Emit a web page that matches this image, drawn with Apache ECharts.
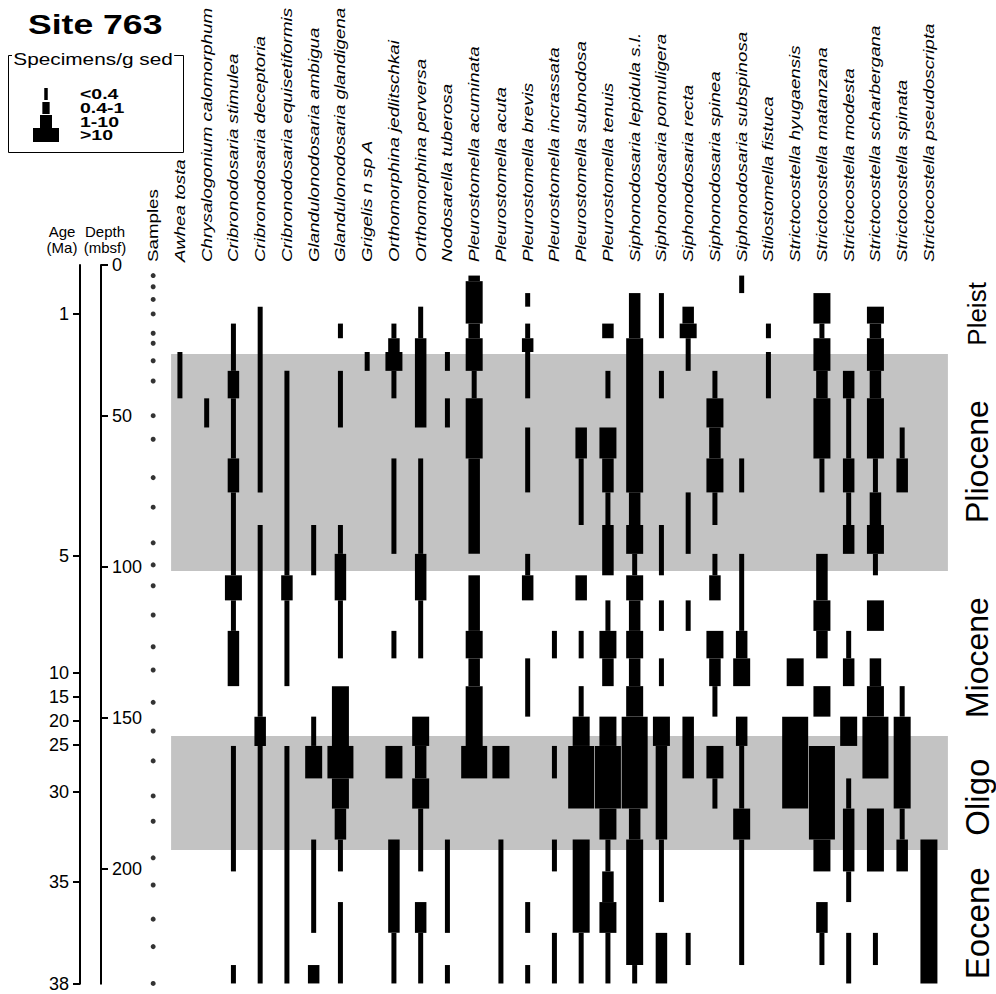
<!DOCTYPE html>
<html><head><meta charset="utf-8">
<script src="https://cdn.jsdelivr.net/npm/echarts@6/dist/echarts.min.js"></script>
<style>html,body{margin:0;padding:0;background:#fff}#c{width:996px;height:994px}</style>
</head><body><div id="c"></div>
<script>
// ---------- DATA ----------
const sampleDepths = [3.5,7.2,11.4,16.2,22.6,25.9,31.7,38.4,49.9,57.7,70.4,80.2,92.0,99.3,106.2,115.9,126.4,134.1,144.8,154.3,164.2,175.8,184.2,196.3,205.3,216.6,225.7,237.9];
const speciesNames = ['Awhea tosta','Chrysalogonium calomorphum','Cribronodosaria stimulea','Cribronodosaria deceptoria','Cribronodosaria equisetiformis','Glandulonodosaria ambigua','Glandulonodosaria glandigena','Grigelis n sp A','Orthomorphina jedlitschkai','Orthomorphina perversa','Nodosarella tuberosa','Pleurostomella acuminata','Pleurostomella acuta','Pleurostomella brevis','Pleurostomella incrassata','Pleurostomella subnodosa','Pleurostomella tenuis','Siphonodosaria lepidula s.l.','Siphonodosaria pomuligera','Siphonodosaria recta','Siphonodosaria spinea','Siphonodosaria subspinosa','Stilostomella fistuca','Strictocostella hyugaensis','Strictocostella matanzana','Strictocostella modesta','Strictocostella scharbergana','Strictocostella spinata','Strictocostella pseudoscripta'];
// abundance class per sample: 0 absent, 1 <0.4, 2 0.4-1, 3 1-10, 4 >10
const awheaTosta      = [0,0,0,0,0,0,1,1,0,0, 0,0,0,0,0,0,0,0,0,0, 0,0,0,0,0,0,0,0];
const chrysalogonium  = [0,0,0,0,0,0,0,0,1,0, 0,0,0,0,0,0,0,0,0,0, 0,0,0,0,0,0,0,0];
const cStimulea       = [0,0,0,0,1,1,1,2,1,1, 2,1,1,1,3,1,2,2,0,0, 1,1,1,1,0,0,0,1];
const cDeceptoria     = [0,0,0,1,1,1,1,1,1,1, 1,0,1,1,1,1,1,1,1,2, 1,1,1,1,1,1,1,1];
const cEquisetiformis = [0,0,0,0,0,0,0,1,1,1, 1,1,1,1,2,1,1,1,0,0, 1,1,1,1,1,1,1,1];
const gAmbigua        = [0,0,0,0,0,0,0,0,0,0, 0,0,1,1,0,0,0,0,0,1, 3,0,0,1,1,1,0,2];
const gGlandigena     = [0,0,0,0,1,0,0,1,1,0, 0,0,1,2,2,1,1,0,3,3, 4,3,2,1,0,1,1,1];
const grigelis        = [0,0,0,0,0,0,1,0,0,0, 0,0,0,0,0,0,0,0,0,0, 0,0,0,0,0,0,0,0];
const oJedlitschkai   = [0,0,0,0,1,2,3,1,0,0, 1,1,1,0,0,0,1,0,0,0, 3,0,0,2,2,2,1,1];
const oPerversa       = [0,0,0,1,1,2,2,2,2,0, 1,1,1,2,2,1,1,0,0,3, 2,3,1,1,0,2,1,1];
const nTuberosa       = [0,0,0,0,0,0,1,0,1,0, 0,0,0,0,0,0,0,0,0,0, 0,0,0,1,1,1,0,1];
const pAcuminata      = [2,3,3,3,2,3,3,1,3,3, 2,2,2,0,2,2,3,2,3,3, 4,0,0,0,0,0,0,0];
const pAcuta          = [0,0,0,0,0,0,0,0,0,0, 0,0,0,0,0,0,0,0,0,0, 3,0,0,1,1,1,1,1];
const pBrevis         = [0,0,1,0,1,2,1,1,0,1, 1,0,0,1,2,0,0,1,1,0, 0,0,0,0,0,1,0,1];
const pIncrassata     = [0,0,0,0,0,0,0,0,0,0, 0,0,0,0,0,0,1,0,0,0, 1,0,0,1,0,0,1,1];
const pSubnodosa      = [0,0,0,0,0,0,0,0,0,2, 1,1,0,0,2,0,1,0,1,3, 4,4,0,3,3,3,1,1];
const pTenuis         = [0,0,0,0,2,0,0,1,0,3, 2,1,2,2,0,1,3,2,0,3, 4,4,3,1,2,3,1,1];
const sLepidula       = [0,0,2,2,2,3,3,3,3,3, 3,2,3,1,3,2,3,2,3,4, 4,4,2,3,3,3,3,1];
const sPomuligera     = [0,0,1,1,1,0,0,1,0,0, 0,0,1,1,0,1,0,1,0,3, 2,2,2,1,1,0,2,2];
const sRecta          = [0,0,0,2,3,1,1,0,0,0, 0,1,1,0,0,1,0,0,0,2, 2,0,0,0,0,0,1,0];
const sSpinea         = [0,0,0,0,0,0,0,1,3,2, 3,1,0,1,2,0,3,2,1,0, 3,1,0,0,0,0,0,0];
const sSubspinosa     = [1,1,0,0,0,0,0,0,0,0, 1,0,0,1,1,1,2,3,0,2, 1,1,3,1,1,1,1,0];
const stFistuca       = [0,0,0,0,1,0,1,1,0,0, 0,0,0,0,0,0,0,0,0,0, 0,0,0,0,0,0,0,0];
const stHyugaensis    = [0,0,0,0,0,0,0,0,0,0, 0,0,0,0,0,0,0,3,0,4, 4,4,0,0,0,0,0,0];
const stMatanzana     = [0,0,3,3,1,3,3,2,3,3, 1,0,0,2,2,3,2,0,3,0, 4,4,4,3,0,2,1,0];
const stModesta       = [0,0,0,0,0,0,0,2,1,1, 2,1,2,0,0,0,1,2,0,3, 0,1,2,2,1,0,1,1];
const stScharbergana  = [0,0,0,3,2,3,3,2,3,3, 1,2,3,1,0,3,0,2,3,4, 4,0,3,3,0,0,1,0];
const stSpinata       = [0,0,0,0,0,0,0,0,0,1, 2,0,0,0,0,0,0,0,1,3, 3,3,1,2,0,0,0,0];
const stPseudoscripta = [0,0,0,0,0,0,0,0,0,0, 0,0,0,0,0,0,0,0,0,0, 0,0,0,3,3,3,3,3];
const abundances = [awheaTosta,chrysalogonium,cStimulea,cDeceptoria,cEquisetiformis,gAmbigua,gGlandigena,grigelis,oJedlitschkai,oPerversa,nTuberosa,pAcuminata,pAcuta,pBrevis,pIncrassata,pSubnodosa,pTenuis,sLepidula,sPomuligera,sRecta,sSpinea,sSubspinosa,stFistuca,stHyugaensis,stMatanzana,stModesta,stScharbergana,stSpinata,stPseudoscripta];
const ageLabels = ['1','5','10','15','20','25','30','35','38'];
const ageDepths = [16.2,96.4,135.1,143.0,151.0,158.9,174.5,204.3,238];
const bandTops = [29.5,156.0];
const bandBottoms = [101.3,193.7];
const periodNames = ['Pleist','Pliocene','Miocene','Oligo','Eocene'];
const periodDepths = [16.2,65.1,130.0,176.2,218.0];
const legendLabels = ['<0.4','0.4-1','1-10','>10'];

// ---------- STYLE / LAYOUT ----------
const FONT = '"Liberation Sans", Arial, sans-serif';
const BAR_W = [0,5,11.5,17,26];
const LEG_W = [3.5,7.3,12,26];
const LEG_Y = [[88,100],[102,114],[115,128],[128,142]];
const PERIOD_FS = [26,32,32,33,33];
const BAND_X0 = -0.33, BAND_X1 = 28.71, PERIOD_X = 29.8;

// ---------- BUILD ----------
const segs = [];
abundances.forEach((arr, j) => {
  let i = 0;
  while (i < arr.length) {
    const c = arr[i];
    if (!c) { i++; continue; }
    let k = i;
    while (k + 1 < arr.length && arr[k + 1] === c) k++;
    const top = i === 0 ? sampleDepths[0] : (sampleDepths[i - 1] + sampleDepths[i]) / 2;
    const bot = k === arr.length - 1 ? sampleDepths[k] : (sampleDepths[k] + sampleDepths[k + 1]) / 2;
    segs.push([j, top, bot, c]);
    i = k + 1;
  }
});
const colNames = ['Samples'].concat(speciesNames);

const chart = echarts.init(document.getElementById('c'), null, {renderer: 'svg'});
const graphic = [
  {type:'text', x:28, y:24, scaleX:1.27, style:{text:'Site 763', font:'bold 28px ' + FONT, fill:'#000', align:'left', verticalAlign:'middle'}},
  {type:'rect', shape:{x:8.5, y:55.5, width:175, height:97}, style:{fill:'none', stroke:'#000', lineWidth:1}},
  {type:'text', x:12, y:59, scaleX:1.3, style:{text:'Specimens/g sed', font:'16px ' + FONT, fill:'#000', align:'left', verticalAlign:'middle', backgroundColor:'#fff', padding:[0,1]}},
  {type:'text', x:62, y:255, style:{text:'Age\n(Ma)', font:'15px ' + FONT, lineHeight:16, fill:'#000', align:'center', verticalAlign:'bottom'}},
  {type:'text', x:105, y:255, style:{text:'Depth\n(mbsf)', font:'15px ' + FONT, lineHeight:16, fill:'#000', align:'center', verticalAlign:'bottom'}}
];
legendLabels.forEach((t, i) => {
  graphic.push({type:'rect', shape:{x:46 - LEG_W[i]/2, y:LEG_Y[i][0], width:LEG_W[i], height:LEG_Y[i][1]-LEG_Y[i][0]}, style:{fill:'#000'}});
  graphic.push({type:'text', x:80, y:(LEG_Y[i][0]+LEG_Y[i][1])/2, scaleX:1.3, style:{text:t, font:'bold 15px ' + FONT, fill:'#000', align:'left', verticalAlign:'middle'}});
});

function nearestAge(v) {
  let best = 0;
  ageDepths.forEach((d, i) => { if (Math.abs(d - v) < Math.abs(ageDepths[best] - v)) best = i; });
  return ageLabels[best];
}

chart.setOption({
  animation: false,
  backgroundColor: '#fff',
  graphic: graphic,
  grid: {left:139.8, right:26.95, top:265, bottom:10.24, containLabel:false},
  xAxis: {type:'value', min:-1.5, max:29.5, show:false},
  yAxis: [
    {type:'value', inverse:true, min:0, max:238, interval:50, position:'left', offset:38.8,
     axisLine:{show:true, onZero:false, lineStyle:{color:'#000', width:2}},
     axisTick:{show:true, inside:true, length:7, lineStyle:{color:'#000', width:2}},
     axisLabel:{inside:true, margin:11, showMaxLabel:false, color:'#000', fontSize:18, fontFamily:FONT},
     splitLine:{show:false}},
    {type:'value', inverse:true, min:0, max:238, position:'left', offset:59.8,
     axisLine:{show:true, onZero:false, lineStyle:{color:'#000', width:2}},
     axisTick:{show:true, customValues:ageDepths, length:7, lineStyle:{color:'#000', width:2}},
     axisLabel:{customValues:ageDepths, margin:11, color:'#000', fontSize:18, fontFamily:FONT, formatter:nearestAge},
     splitLine:{show:false}}
  ],
  series: [
    {type:'custom', name:'bands', silent:true, z:1,
     data: bandTops.map((t, i) => [BAND_X0, t, BAND_X1, bandBottoms[i]]),
     encode:{x:[0,2], y:[1,3]},
     renderItem:(p, api) => {
       const a = api.coord([api.value(0), api.value(1)]);
       const b = api.coord([api.value(2), api.value(3)]);
       return {type:'rect', shape:{x:a[0], y:a[1], width:b[0]-a[0], height:b[1]-a[1]}, style:{fill:'#c3c3c3'}};
     }},
    {type:'custom', name:'ranges', silent:true, z:3,
     data: segs, encode:{x:0, y:[1,2]},
     renderItem:(p, api) => {
       const x = api.value(0);
       const a = api.coord([x, api.value(1)]);
       const b = api.coord([x, api.value(2)]);
       const w = BAR_W[api.value(3)];
       return {type:'rect', shape:{x:a[0]-w/2, y:a[1], width:w, height:b[1]-a[1]}, style:{fill:'#000'}};
     }},
    {type:'scatter', name:'Samples', silent:true, z:4, symbol:'circle', symbolSize:5,
     itemStyle:{color:'#000'},
     data: sampleDepths.map(d => [-1, d])},
    {type:'custom', name:'columnLabels', silent:true, clip:false, z:5,
     data: colNames.map((n, i) => [i - 1, 0]), encode:{x:0, y:1},
     renderItem:(p, api) => {
       const c = api.coord([api.value(0), 0]);
       const i = p.dataIndex;
       return {type:'text', x:c[0], y:c[1]-3, rotation:Math.PI/2, scaleX:1.25,
         style:{text:colNames[i], font:(i === 0 ? '' : 'italic ') + '15px ' + FONT, fill:'#000', align:'left', verticalAlign:'middle'}};
     }},
    {type:'custom', name:'periods', silent:true, clip:false, z:5,
     data: periodDepths.map(d => [PERIOD_X, d]), encode:{x:0, y:1},
     renderItem:(p, api) => {
       const c = api.coord([api.value(0), api.value(1)]);
       return {type:'text', x:c[0], y:c[1], rotation:Math.PI/2,
         style:{text:periodNames[p.dataIndex], font:PERIOD_FS[p.dataIndex] + 'px ' + FONT, fill:'#000', align:'center', verticalAlign:'middle'}};
     }}
  ]
});
</script></body></html>
